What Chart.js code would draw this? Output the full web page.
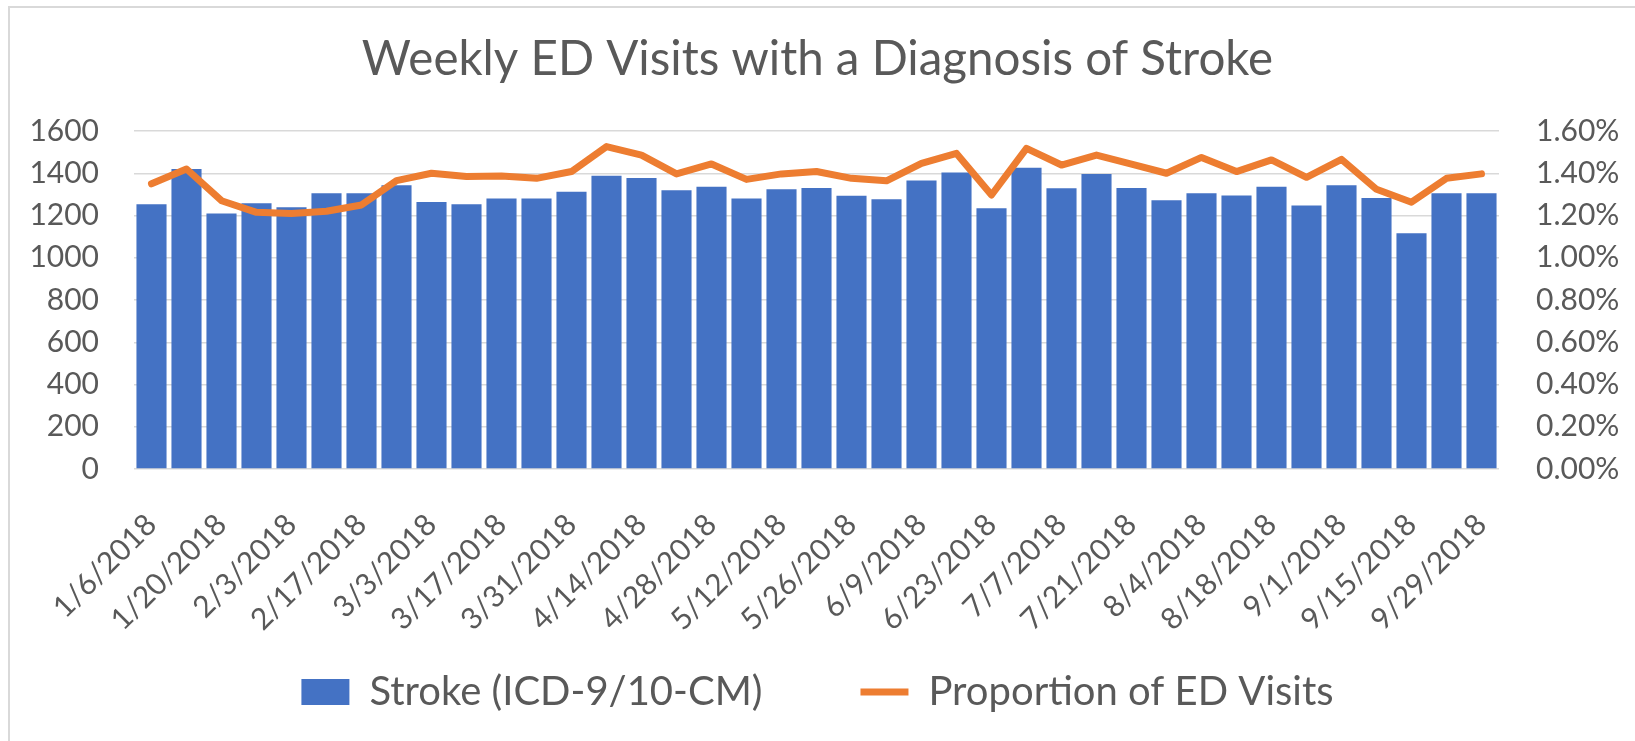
<!DOCTYPE html>
<html>
<head>
<meta charset="utf-8">
<script src="https://cdn.jsdelivr.net/npm/chart.js@4.4.1/dist/chart.umd.min.js"></script>
<style>
    html, body { margin: 0; padding: 0; background: #fff; overflow: hidden; }
    #cadre { position: absolute; left: 0; top: 0; width: 1635px; height: 741px; }
    #bord { position: absolute; left: 8px; top: 6px; width: 1700px; height: 800px;
            border-top: 2px solid #d9d9d9; border-left: 2px solid #d9d9d9; }
    canvas { position: absolute; left: 0; top: 0; }
</style>
</head>
<body>
<div id="cadre">
    <div id="bord"></div>
    <canvas id="graphique-avc" width="1635" height="741"></canvas>
</div>
<script>
// Semaines (samedi de fin de semaine)
const semaines = [
    "1/6/2018", "1/13/2018", "1/20/2018", "1/27/2018",
    "2/3/2018", "2/10/2018", "2/17/2018", "2/24/2018",
    "3/3/2018", "3/10/2018", "3/17/2018", "3/24/2018", "3/31/2018",
    "4/7/2018", "4/14/2018", "4/21/2018", "4/28/2018",
    "5/5/2018", "5/12/2018", "5/19/2018", "5/26/2018",
    "6/2/2018", "6/9/2018", "6/16/2018", "6/23/2018", "6/30/2018",
    "7/7/2018", "7/14/2018", "7/21/2018", "7/28/2018",
    "8/4/2018", "8/11/2018", "8/18/2018", "8/25/2018",
    "9/1/2018", "9/8/2018", "9/15/2018", "9/22/2018", "9/29/2018"
];

// Nombre de visites aux urgences avec diagnostic d'AVC
const visitesAvc = [
    1253, 1420, 1210, 1258, 1239, 1305, 1305, 1343, 1264, 1253,
    1281, 1281, 1313, 1388, 1377, 1319, 1336, 1281, 1324, 1330,
    1294, 1277, 1366, 1403, 1234, 1426, 1329, 1396, 1330, 1272,
    1305, 1295, 1336, 1247, 1343, 1283, 1116, 1305, 1305
];

// Proportion des visites aux urgences (en %)
const proportionVisites = [
    1.35, 1.42, 1.27, 1.215, 1.21, 1.22, 1.25, 1.365, 1.40, 1.385,
    1.387, 1.376, 1.408, 1.526, 1.486, 1.397, 1.444, 1.371, 1.397, 1.408,
    1.376, 1.364, 1.447, 1.494, 1.297, 1.518, 1.439, 1.486, 1.443, 1.40,
    1.475, 1.408, 1.463, 1.381, 1.466, 1.324, 1.263, 1.376, 1.397
];

const ticksGauche = [0, 200, 400, 600, 800, 1000, 1200, 1400, 1600];
const ticksDroite = [0, 0.2, 0.4, 0.6, 0.8, 1.0, 1.2, 1.4, 1.6];

const gris = "#595959";
const police = "Lato";

function dessinerGraphique() {
    const data = {
        labels: semaines,
        datasets: [
            {
                type: "bar",
                label: "Stroke (ICD-9/10-CM)",
                data: visitesAvc,
                backgroundColor: "#4472C4",
                borderWidth: 0,
                barPercentage: 0.86,
                categoryPercentage: 1,
                pointStyle: "rect",
                yAxisID: "y",
                order: 2,
            },
            {
                type: "line",
                label: "Proportion of ED Visits",
                data: proportionVisites,
                borderColor: "#ED7D31",
                backgroundColor: "#ED7D31",
                borderWidth: 7,
                borderCapStyle: "round",
                borderJoinStyle: "round",
                tension: 0,
                pointRadius: 0,
                pointHoverRadius: 0,
                pointStyle: "line",
                pointBorderWidth: 7,
                pointBorderColor: "#ED7D31",
                pointBackgroundColor: "#ED7D31",
                yAxisID: "y2",
                order: 1,
            },
        ],
    };

    const config = {
        data: data,
        options: {
            responsive: false,
            animation: false,
            devicePixelRatio: 1,
            layout: { padding: { left: 0, right: 0, top: 0, bottom: 19 } },
            plugins: {
                title: {
                    display: true,
                    text: "Weekly ED Visits with a Diagnosis of Stroke",
                    color: gris,
                    font: { family: police, size: 47.5, weight: "normal", lineHeight: 1.2 },
                    padding: { top: 31, bottom: 43 },
                },
                legend: {
                    position: "bottom",
                    labels: {
                        color: gris,
                        font: { family: police, size: 40 },
                        usePointStyle: true,
                        pointStyleWidth: 48,
                        boxHeight: 26,
                        padding: 98,
                        // barres d'abord, comme dans l'original
                        sort: (a, b) => a.datasetIndex - b.datasetIndex,
                    },
                },
                tooltip: { enabled: false },
            },
            scales: {
                x: {
                    grid: { display: false },
                    border: { display: false },
                    ticks: {
                        color: gris,
                        font: { family: police, size: 30 },
                        autoSkip: false,
                        minRotation: 45,
                        maxRotation: 45,
                        padding: 30,
                        callback: function (valeur, index) {
                            return index % 2 === 0 ? semaines[index] : "";
                        },
                    },
                    afterFit: function (echelle) {
                        echelle.height = 105;
                        // les étiquettes inclinées dépassent dans la zone de la légende
                        echelle._computeLabelArea = function () { return undefined; };
                    },
                },
                y: {
                    position: "left",
                    min: 0,
                    max: 1600,
                    grid: { color: "#d9d9d9", lineWidth: 1.5, drawTicks: false },
                    border: { display: false },
                    afterBuildTicks: function (echelle) {
                        echelle.ticks = ticksGauche.map(v => ({ value: v }));
                    },
                    ticks: {
                        color: gris,
                        font: { family: police, size: 30 },
                        padding: 35,
                        callback: function (valeur) {
                            return String(valeur);
                        },
                    },
                    afterFit: function (echelle) {
                        echelle.width = 134;
                    },
                },
                y2: {
                    position: "right",
                    min: 0,
                    max: 1.6,
                    grid: { display: false, drawTicks: false },
                    border: { display: false },
                    afterBuildTicks: function (echelle) {
                        echelle.ticks = ticksDroite.map(v => ({ value: v }));
                    },
                    ticks: {
                        color: gris,
                        font: { family: police, size: 30 },
                        padding: 37,
                        callback: function (valeur) {
                            return valeur.toFixed(2) + "%";
                        },
                    },
                    afterFit: function (echelle) {
                        echelle.width = 136;
                    },
                },
            },
        },
    };

    new Chart(document.querySelector("#graphique-avc"), config);
}

document.fonts.load("30px Lato").then(dessinerGraphique, dessinerGraphique);
</script>
</body>
</html>
